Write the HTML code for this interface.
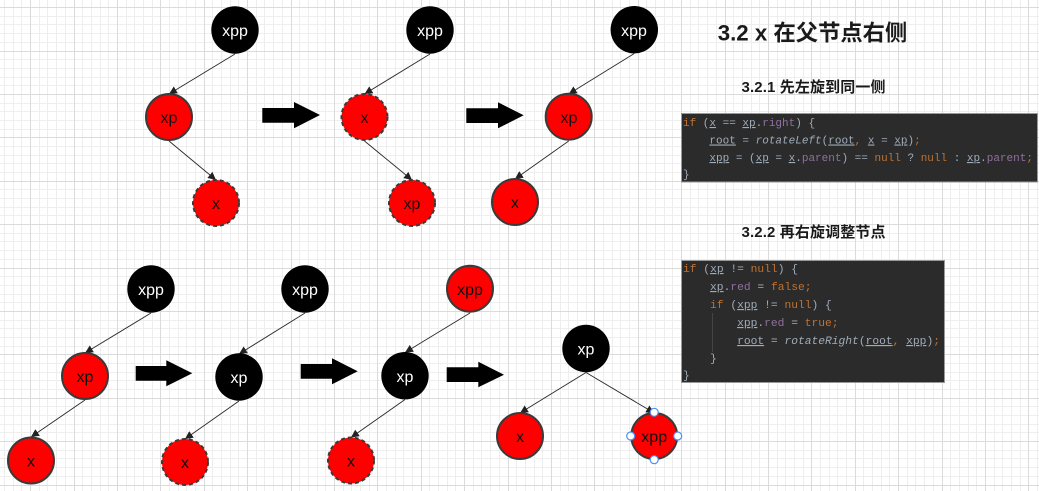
<!DOCTYPE html>
<html><head><meta charset="utf-8"><style>
html,body{margin:0;padding:0;background:#fff}
svg{display:block}
.n{font:16px "Liberation Sans",sans-serif;text-anchor:middle}
.c{font-family:"Liberation Mono",monospace;font-size:11.27px;white-space:pre;fill:#a9b7c6;opacity:.92}
.c1{font-size:11px}
.k{fill:#cc7832}.f{fill:#9876aa}.u{text-decoration:underline}.i{font-style:italic}
.t{font-family:"Liberation Sans","Noto Sans CJK SC",sans-serif;font-weight:bold;fill:#1a1a1a;text-anchor:middle}
</style></head><body>
<svg width="1039" height="491" viewBox="0 0 1039 491" xmlns="http://www.w3.org/2000/svg">
<defs>
<pattern id="gx" width="217" height="217" patternUnits="userSpaceOnUse" x="30" y="7">
<path shape-rendering="crispEdges" fill="none" stroke="#eeeeee" stroke-width="1" d="M9.5 0V217M17.5 0V217M26.5 0V217M35.5 0V217M52.5 0V217M61.5 0V217M70.5 0V217M78.5 0V217M96.5 0V217M104.5 0V217M113.5 0V217M122.5 0V217M139.5 0V217M148.5 0V217M156.5 0V217M165.5 0V217M182.5 0V217M191.5 0V217M200.5 0V217M208.5 0V217M0 9.5H217M0 17.5H217M0 26.5H217M0 35.5H217M0 52.5H217M0 61.5H217M0 70.5H217M0 78.5H217M0 96.5H217M0 104.5H217M0 113.5H217M0 122.5H217M0 139.5H217M0 148.5H217M0 156.5H217M0 165.5H217M0 182.5H217M0 191.5H217M0 200.5H217M0 208.5H217"/>
<path shape-rendering="crispEdges" fill="none" stroke="#dbdbdb" stroke-width="1" d="M.5 0V217M44.5 0V217M87.5 0V217M130.5 0V217M174.5 0V217M0 .5H217M0 44.5H217M0 87.5H217M0 130.5H217M0 174.5H217"/>
</pattern>
<marker id="a" markerWidth="9" markerHeight="8" refX="8" refY="4" orient="auto" markerUnits="userSpaceOnUse"><path d="M0 0L8 4L0 8Z" fill="#222"/></marker>
</defs>
<rect width="1039" height="491" fill="#fff"/>
<rect width="1039" height="491" fill="url(#gx)"/>

<g stroke="#2a2a2a" stroke-width="0.9" fill="none">
<path d="M235 54L169 94" marker-end="url(#a)"/>
<path d="M169 141L216 180" marker-end="url(#a)"/>
<path d="M430 54L364.500 94" marker-end="url(#a)"/>
<path d="M364.500 141L412 180" marker-end="url(#a)"/>
<path d="M634.300 53.500L568.700 94" marker-end="url(#a)"/>
<path d="M568.700 141L515 179" marker-end="url(#a)"/>
<path d="M151 313L85 353" marker-end="url(#a)"/>
<path d="M85 400L31 437" marker-end="url(#a)"/>
<path d="M305 313L239 354" marker-end="url(#a)"/>
<path d="M239 401L185 439" marker-end="url(#a)"/>
<path d="M470 313L405 352.500" marker-end="url(#a)"/>
<path d="M405 399.500L351 437.500" marker-end="url(#a)"/>
<path d="M586 372.500L520 413" marker-end="url(#a)"/>
<path d="M586 372.500L654.200 413" marker-end="url(#a)"/>
</g>

<g fill="#000">
<path d="M262.300 108H294V102L320 115L294 128.300V122.700H262.300Z"/>
<path d="M466.300 108.300H498V102.300L523.700 115.300L498 128.300V123H466.300Z"/>
<path d="M135.700 366H166.300V360.300L192.300 373.300L166.300 386.300V380.700H135.700Z"/>
<path d="M300.700 364H332V358.300L357.700 371.300L332 384.300V378.700H300.700Z"/>
<path d="M446.700 367.300H478.300V361.700L504 374.700L478.300 387.300V382H446.700Z"/>
</g>

<g fill="#000">
<circle cx="235" cy="30" r="23.7"/><circle cx="430" cy="30" r="23.7"/><circle cx="634.300" cy="29.700" r="23.7"/>
<circle cx="151" cy="289" r="23.7"/><circle cx="305" cy="289" r="23.7"/>
<circle cx="239" cy="377" r="23.7"/><circle cx="405" cy="375.700" r="23.7"/><circle cx="586" cy="348.500" r="23.7"/>
</g>
<g fill="#ff0000" stroke="#3a3a3a" stroke-width="2">
<circle cx="169" cy="117" r="23"/><circle cx="568.700" cy="116.700" r="23"/><circle cx="515" cy="202" r="23"/>
<circle cx="85" cy="376" r="23"/><circle cx="31" cy="460.500" r="23"/>
<circle cx="470" cy="288.700" r="23"/><circle cx="520" cy="436" r="23"/><circle cx="654.200" cy="436" r="23"/>
</g>
<g fill="#ff0000" stroke="#3a3a3a" stroke-width="2" stroke-dasharray="4 3">
<circle cx="216" cy="203" r="23"/><circle cx="364.500" cy="117" r="23"/><circle cx="412" cy="203" r="23"/>
<circle cx="185" cy="462" r="23"/><circle cx="351" cy="460.500" r="23"/>
</g>

<g fill="#fff" stroke="#4a90f0" stroke-width="1.2">
<circle cx="654.200" cy="412.300" r="4"/><circle cx="654.200" cy="459.700" r="4"/><circle cx="630.700" cy="436" r="4"/><circle cx="677.700" cy="436" r="4"/>
</g>

<g fill="#fff">
<text class="n" x="235" y="36">xpp</text><text class="n" x="430" y="36">xpp</text><text class="n" x="634" y="36">xpp</text>
<text class="n" x="151" y="295">xpp</text><text class="n" x="305" y="295">xpp</text>
<text class="n" x="239" y="383">xp</text><text class="n" x="405" y="382">xp</text><text class="n" x="586" y="354.500">xp</text>
</g>
<g fill="#111">
<text class="n" x="169" y="123">xp</text><text class="n" x="216" y="209">x</text>
<text class="n" x="364.500" y="123">x</text><text class="n" x="412" y="209">xp</text>
<text class="n" x="569" y="123">xp</text><text class="n" x="515" y="208">x</text>
<text class="n" x="85" y="382">xp</text><text class="n" x="31" y="466.500">x</text>
<text class="n" x="185" y="468">x</text><text class="n" x="470" y="295">xpp</text><text class="n" x="351" y="466.500">x</text>
<text class="n" x="520" y="442">x</text><text class="n" x="654.200" y="442">xpp</text>
</g>

<text class="t" x="812.5" y="40.500" font-size="22.3">3.2 x 在父节点右侧</text>
<text class="t" x="813.5" y="92" font-size="15" textLength="144">3.2.1 先左旋到同一侧</text>
<text class="t" x="813.5" y="237" font-size="15" textLength="144">3.2.2 再右旋调整节点</text>

<rect x="681.5" y="113.5" width="356" height="68.500" fill="#2b2b2b" stroke="#999" stroke-width="1"/>
<text class="c c1" x="683" y="126"><tspan class="k">if</tspan> (<tspan class="u">x</tspan> == <tspan class="u">xp</tspan>.<tspan class="f">right</tspan>) {</text>
<text class="c c1" x="683" y="143.500">    <tspan class="u">root</tspan> = <tspan class="i">rotateLeft</tspan>(<tspan class="u">root</tspan><tspan class="k">,</tspan> <tspan class="u">x</tspan> = <tspan class="u">xp</tspan>)<tspan class="k">;</tspan></text>
<text class="c c1" x="683" y="161">    <tspan class="u">xpp</tspan> = (<tspan class="u">xp</tspan> = <tspan class="u">x</tspan>.<tspan class="f">parent</tspan>) == <tspan class="k">null</tspan> ? <tspan class="k">null</tspan> : <tspan class="u">xp</tspan>.<tspan class="f">parent</tspan><tspan class="k">;</tspan></text>
<text class="c c1" x="683" y="177.500">}</text>

<rect x="681.5" y="260.5" width="263" height="122" fill="#2b2b2b" stroke="#999" stroke-width="1"/>
<path d="M712.500 313V352" stroke="#444" stroke-width="1"/>
<text class="c" x="683" y="272"><tspan class="k">if</tspan> (<tspan class="u">xp</tspan> != <tspan class="k">null</tspan>) {</text>
<text class="c" x="683" y="290">    <tspan class="u">xp</tspan>.<tspan class="f">red</tspan> = <tspan class="k">false;</tspan></text>
<text class="c" x="683" y="308">    <tspan class="k">if</tspan> (<tspan class="u">xpp</tspan> != <tspan class="k">null</tspan>) {</text>
<text class="c" x="683" y="326">        <tspan class="u">xpp</tspan>.<tspan class="f">red</tspan> = <tspan class="k">true;</tspan></text>
<text class="c" x="683" y="344">        <tspan class="u">root</tspan> = <tspan class="i">rotateRight</tspan>(<tspan class="u">root</tspan><tspan class="k">,</tspan> <tspan class="u">xpp</tspan>)<tspan class="k">;</tspan></text>
<text class="c" x="683" y="361.500">    }</text>
<text class="c" x="683" y="378.500">}</text>
</svg>
</body></html>
